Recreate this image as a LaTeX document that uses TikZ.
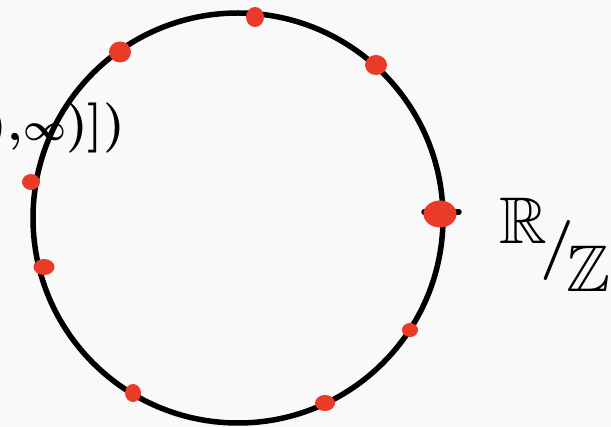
\documentclass[tikz,border=0pt]{standalone}
\usepackage{amsmath,amssymb}
\usetikzlibrary{shapes.geometric}
\definecolor{dotred}{RGB}{234,58,40}
\definecolor{paper}{RGB}{249,249,249}
\begin{document}
\begin{tikzpicture}[
  x=1pt, y=-1pt,               % <-- pixel units, y downwards
  edge/.style={line width=5.5pt, draw=black, line cap=round},
  dot/.style={ellipse, fill=dotred, inner sep=0pt, minimum width=18pt, minimum height=17pt},
  big/.style={font=\fontsize{60}{60}\selectfont\bfseries},
  side/.style={font=\fontsize{50}{50}\selectfont\bfseries}
]
\fill[paper] (0,0) rectangle (611,427);
\useasboundingbox (0,0) rectangle (611,427);

% ===================== circle =====================
\coordinate (o) at (238,218);
\draw[edge] (o) circle[radius=205pt];

% tick at the base point
\coordinate (t1) at (424,212);
\coordinate (t2) at (459,212);
\draw[edge] (t1)--(t2);

% ===================== points =====================
\node[dot, minimum width=33pt, minimum height=27pt] (p0) at (440,214) {};   % big one
\node[dot, minimum width=18pt, minimum height=20pt] (p1) at (255,17)  {};
\node[dot, minimum width=22pt, minimum height=21pt] (p2) at (120,52)  {};
\node[dot, minimum width=22pt, minimum height=20pt] (p3) at (376,65)  {};
\node[dot, minimum width=18pt, minimum height=16pt] (p4) at (31,182)  {};
\node[dot, minimum width=21pt, minimum height=16pt] (p5) at (44,267)  {};
\node[dot, minimum width=16pt, minimum height=14pt] (p6) at (410,330) {};
\node[dot, minimum width=16pt, minimum height=18pt] (p7) at (133,393) {};
\node[dot, minimum width=20pt, minimum height=16pt] (p8) at (325,403) {};

% ===================== labels =====================
\node[big, inner sep=0pt] (quot) at (555,245)
  {\raisebox{22pt}{\scalebox{1.1}{$\mathbb{R}$}}\kern-6pt/\kern-8pt\raisebox{-26pt}{\scalebox{1.1}{$\mathbb{Z}$}}};
\node[side, anchor=east] (intv) at (129,128) {),\scalebox{1.5}{$\boldsymbol{\infty}$})])};

\end{tikzpicture}
\end{document}
